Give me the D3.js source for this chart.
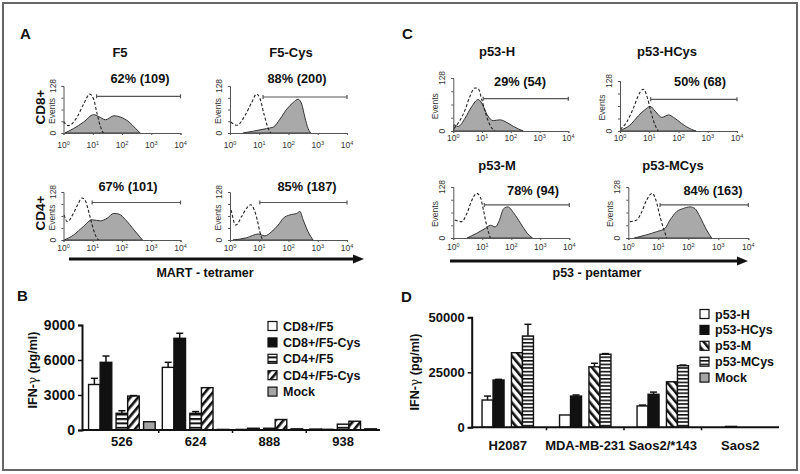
<!DOCTYPE html>
<html><head><meta charset="utf-8">
<script src="https://cdn.jsdelivr.net/npm/d3@7"></script>
<style>
body{margin:0;background:#fff}
text{font-family:"Liberation Sans",Arial,sans-serif;fill:#111}
</style>
</head><body>
<svg id="c" width="800" height="474"></svg>
<script>
// ---------------- DATA ----------------
const logTicks = [0, 1, 2, 3, 4];
const eventTicks = [0, 32, 64, 96, 128];

// flow histograms: [log10 fluorescence, events]
const a11Ctrl = [[0,31],[0.17,20],[0.46,43],[0.69,79],[0.9,106],[1.03,92],[1.15,52],[1.27,16],[1.36,0]];
const a11Stain = [[0.05,0],[0.34,12],[0.69,30],[1.03,50],[1.2,45],[1.44,36],[1.72,47],[1.96,43],[2.24,30],[2.47,12],[2.62,0]];
const a12Ctrl = [[0.03,30],[0.23,21],[0.51,47],[0.74,83],[0.91,106],[1.02,95],[1.16,52],[1.31,12],[1.39,0]];
const a12Stain = [[0.45,0],[0.8,5],[1.25,12],[1.48,16],[1.71,38],[1.94,65],[2.16,83],[2.33,92],[2.45,79],[2.56,43],[2.67,12],[2.76,0]];
const a21Ctrl = [[0.02,67],[0.13,49],[0.34,71],[0.51,98],[0.63,112],[0.75,104],[0.86,76],[0.98,40],[1.09,13],[1.2,0]];
const a21Stain = [[0.02,0],[0.34,13],[0.68,36],[0.98,54],[1.26,51],[1.49,58],[1.72,71],[1.9,69],[2.12,54],[2.41,27],[2.7,0]];
const a22Ctrl = [[0.04,80],[0.2,40],[0.4,63],[0.57,85],[0.71,94],[0.83,80],[0.93,54],[1.02,22],[1.11,0]];
const a22Stain = [[0.1,0],[0.57,6],[0.97,16],[1.19,11],[1.42,22],[1.65,40],[1.82,58],[2.05,67],[2.28,71],[2.39,76],[2.5,54],[2.67,22],[2.84,0]];
const c11Ctrl = [[0.02,6],[0.17,19],[0.41,51],[0.58,84],[0.75,104],[0.87,102],[0.99,76],[1.14,39],[1.3,11],[1.45,0]];
const c11Stain = [[0.01,0],[0.02,15],[0.17,11],[0.41,31],[0.64,59],[0.87,76],[1.02,63],[1.18,39],[1.39,25],[1.62,27],[1.8,23],[2.09,11],[2.43,0]];
const c12Ctrl = [[0.01,4],[0.23,23],[0.46,59],[0.66,96],[0.8,107],[0.94,84],[1.05,51],[1.2,15],[1.31,0]];
const c12Stain = [[0.01,2],[0.34,15],[0.63,39],[0.86,55],[1.03,63],[1.2,51],[1.43,35],[1.66,41],[1.83,35],[2.11,19],[2.45,4],[2.6,0]];
const c21Ctrl = [[0.05,45],[0.29,41],[0.47,62],[0.64,95],[0.81,112],[0.93,103],[1.04,70],[1.16,28],[1.28,0]];
const c21Stain = [[0.47,0],[0.81,12],[1.1,24],[1.28,32],[1.45,28],[1.57,41],[1.74,74],[1.88,78],[2.09,62],[2.32,37],[2.55,12],[2.73,0]];
const c22Ctrl = [[0.05,41],[0.28,45],[0.45,66],[0.61,95],[0.8,112],[0.92,95],[1.06,53],[1.19,20],[1.28,0]];
const c22Stain = [[0.2,0],[0.61,8],[0.95,16],[1.22,24],[1.39,45],[1.61,66],[1.83,74],[2.06,78],[2.22,74],[2.39,53],[2.61,20],[2.78,0]];

const percentLabels = ["62% (109)", "88% (200)", "67% (101)", "85% (187)", "29% (54)", "50% (68)", "78% (94)", "84% (163)"];
const gateStarts = [1.13, 1.13, 0.98, 1.02, 1.04, 1.05, 1.07, 1.06];
const gateLevels = [100, 98, 100, 100, 78, 81, 83, 83];

const bCategories = ["526", "624", "888", "938"];
const bSeries = ["CD8+/F5", "CD8+/F5-Cys", "CD4+/F5", "CD4+/F5-Cys", "Mock"];
const bCD8F5 = [3900, 5370, 50, 80];
const bCD8F5Cys = [5800, 7860, 150, 60];
const bCD4F5 = [1430, 1430, 150, 500];
const bCD4F5Cys = [2910, 3630, 900, 750];
const bMock = [710, 50, 100, 100];
const bCD8F5Err = [530, 430, 0, 0];
const bCD8F5CysErr = [540, 430, 0, 0];
const bCD4F5Err = [220, 150, 0, 0];
const bCD4F5CysErr = [40, 0, 0, 0];
const bMockErr = [0, 0, 0, 0];
const bTicks = [0, 3000, 6000, 9000];

const dCategories = ["H2087", "MDA-MB-231", "Saos2/*143", "Saos2"];
const dSeries = ["p53-H", "p53-HCys", "p53-M", "p53-MCys", "Mock"];
const dP53H = [12400, 5600, 9700, 0];
const dP53HCys = [21500, 14200, 15000, 400];
const dP53M = [33900, 27500, 20700, 0];
const dP53MCys = [41500, 33200, 28000, 0];
const dMock = [0, 0, 0, 0];
const dP53HErr = [1800, 0, 400, 0];
const dP53HCysErr = [300, 500, 1000, 0];
const dP53MErr = [0, 1600, 0, 0];
const dP53MCysErr = [5300, 300, 300, 0];
const dMockErr = [0, 0, 0, 0];
const dTicks = [0, 25000, 50000];

// ---------------- DRAW ----------------
const svg = d3.select("#c");
const defs = svg.append("defs");
function hStripe(id, gap, thick){
  const p = defs.append("pattern").attr("id", id).attr("patternUnits","userSpaceOnUse")
    .attr("width", 4).attr("height", gap);
  p.append("rect").attr("width",4).attr("height",gap).attr("fill","#fff");
  p.append("rect").attr("y",0).attr("width",4).attr("height",thick).attr("fill","#111");
}
function dStripe(id, angle, gap, thick){
  const p = defs.append("pattern").attr("id", id).attr("patternUnits","userSpaceOnUse")
    .attr("width", gap).attr("height", gap).attr("patternTransform", `rotate(${angle})`);
  p.append("rect").attr("width",gap).attr("height",gap).attr("fill","#fff");
  p.append("rect").attr("x",0).attr("width",thick).attr("height",gap).attr("fill","#111");
}
hStripe("hsB", 4.4, 2);
dStripe("dsB", 40, 6, 2.6);
hStripe("hsD", 3.6, 1.6);
dStripe("dsD", -40, 6, 2.6);

// outer frame
svg.append("rect").attr("x",3).attr("y",3).attr("width",794).attr("height",467)
  .attr("fill","none").attr("stroke","#666").attr("stroke-width",2);

function txt(x,y,s,size,opt={}){
  const t = svg.append("text").attr("x",x).attr("y",y).text(s)
    .attr("font-size",size).attr("font-weight",opt.w||"bold")
    .attr("text-anchor",opt.a||"middle");
  if(opt.rot) t.attr("transform",`rotate(-90,${x},${y})`);
  if(opt.fill) t.style("fill",opt.fill);
  return t;
}

// panel letters
txt(20,39,"A",15,{a:"start"});
txt(402,39,"C",15,{a:"start"});
txt(17,301,"B",15,{a:"start"});
txt(401,302,"D",15,{a:"start"});

// column / row titles
txt(120,57,"F5",13); txt(291,57,"F5-Cys",13);
txt(497,56,"p53-H",13); txt(667,56,"p53-HCys",13);
txt(497,170,"p53-M",13); txt(673,170,"p53-MCys",13);
txt(45,107,"CD8+",13.5,{rot:true});
txt(45,213,"CD4+",13.5,{rot:true});

// histogram panels
const hists = [
  {ctrl:a11Ctrl, stain:a11Stain, x0:63.5, base:133, w:117, h:47, lab:[140,83], lo:12, ev:11},
  {ctrl:a12Ctrl, stain:a12Stain, x0:230, base:133, w:117, h:47, lab:[297,83], lo:12, ev:11},
  {ctrl:a21Ctrl, stain:a21Stain, x0:63.5, base:240, w:117, h:48, lab:[128,191], lo:8, ev:11},
  {ctrl:a22Ctrl, stain:a22Stain, x0:230, base:240, w:117, h:48, lab:[307,191], lo:8, ev:11},
  {ctrl:c11Ctrl, stain:c11Stain, x0:453.3, base:131, w:115, h:53, lab:[520,86], lo:7, ev:17},
  {ctrl:c12Ctrl, stain:c12Stain, x0:620, base:131, w:117, h:50, lab:[700,86], lo:7, ev:17},
  {ctrl:c21Ctrl, stain:c21Stain, x0:453.3, base:238, w:116, h:51, lab:[533,195], lo:9, ev:17},
  {ctrl:c22Ctrl, stain:c22Stain, x0:628.3, base:238, w:120, h:51, lab:[713,195], lo:9, ev:17}
];
hists.forEach((p,i)=>{
  const x = d3.scaleLinear().domain([0,4]).range([p.x0, p.x0+p.w]);
  const y = d3.scaleLinear().domain([0,128]).range([p.base, p.base-p.h]);
  const g = svg.append("g");
  const area = d3.area().x(d=>x(d[0])).y0(y(0)).y1(d=>y(d[1])).curve(d3.curveMonotoneX);
  const line = d3.line().x(d=>x(d[0])).y(d=>y(d[1])).curve(d3.curveMonotoneX);
  g.append("path").attr("d",area(p.stain)).attr("fill","#a9a9a9").attr("stroke","#333").attr("stroke-width",1);
  g.append("path").attr("d",line(p.ctrl)).attr("fill","none").attr("stroke","#222")
    .attr("stroke-width",1.1).attr("stroke-dasharray","3,2");
  // axes
  const gx = g.append("g").attr("transform",`translate(0,${p.base})`)
    .call(d3.axisBottom(x).tickValues(logTicks).tickSize(2).tickFormat(""));
  gx.select(".domain").attr("stroke","#555");
  gx.selectAll(".tick line").attr("stroke","#555");
  const gy = g.append("g").attr("transform",`translate(${p.x0},0)`)
    .call(d3.axisLeft(y).tickValues(eventTicks).tickSize(2).tickFormat(""));
  gy.select(".domain").attr("stroke","#555");
  gy.selectAll(".tick line").attr("stroke","#555");
  logTicks.forEach(t=>{
    const tt = svg.append("text").attr("x",x(t)).attr("y",p.base+p.lo+3)
      .attr("font-size",8.5).attr("text-anchor","middle").style("fill","#333");
    tt.append("tspan").text("10");
    tt.append("tspan").text(t).attr("font-size",5.5).attr("dy",-3.5);
  });
  txt(p.x0-8, y(128), "128", 8.5, {w:"normal", rot:true, fill:"#333"});
  txt(p.x0-8, y(0), "0", 8.5, {w:"normal", rot:true, fill:"#333"});
  txt(p.x0-p.ev+2, y(60), "Events", 8.5, {w:"normal", rot:true, fill:"#333"});
  // gate
  const gy2 = y(gateLevels[i]);
  g.append("line").attr("x1",x(gateStarts[i])).attr("x2",x(4)).attr("y1",gy2).attr("y2",gy2)
    .attr("stroke","#555").attr("stroke-width",1.2);
  [gateStarts[i],4].forEach(v=>g.append("line").attr("x1",x(v)).attr("x2",x(v))
    .attr("y1",gy2-2).attr("y2",gy2+2).attr("stroke","#555").attr("stroke-width",1.2));
  txt(p.lab[0], p.lab[1], percentLabels[i], 12.8);
});

// arrows
function arrow(x1,x2,y){
  svg.append("line").attr("x1",x1).attr("x2",x2-8).attr("y1",y).attr("y2",y)
    .attr("stroke","#111").attr("stroke-width",3);
  svg.append("path").attr("d",`M${x2-11},${y-4.5}L${x2},${y}L${x2-11},${y+4.5}Z`).attr("fill","#111");
}
arrow(69,364,259); arrow(450,748,261);
txt(205,277,"MART - tetramer",12.5);
txt(597,277,"p53 - pentamer",12.5);

// bar charts
function barChart(cfg){
  const y = d3.scaleLinear().domain(cfg.domain).range(cfg.yr);
  const x = d3.scaleBand().domain(cfg.cats).range(cfg.xr);
  const nb = cfg.drawn.length;
  const xi = d3.scaleBand().domain(cfg.drawn).range([0, nb*cfg.bw]);
  const span = nb*cfg.bw + cfg.gap*cfg.gapIdx[nb-1];
  const g = svg.append("g");
  cfg.drawn.forEach((s,si)=>{
    const vals = cfg.values[si], errs = cfg.errs[si];
    cfg.cats.forEach((c,ci)=>{
      const bx = x(c) + (x.bandwidth()-span)/2 + xi(s) + cfg.gapIdx[si]*cfg.gap;
      const v = vals[ci];
      if(v<=0) return;
      if(errs[ci]>0){
        const cx = bx + cfg.bw/2;
        g.append("line").attr("x1",cx).attr("x2",cx).attr("y1",y(v)).attr("y2",y(v+errs[ci]))
          .attr("stroke","#111").attr("stroke-width",1.5);
        g.append("line").attr("x1",cx-3.5).attr("x2",cx+3.5).attr("y1",y(v+errs[ci])).attr("y2",y(v+errs[ci]))
          .attr("stroke","#111").attr("stroke-width",1.5);
      }
      g.append("rect").attr("x",bx).attr("width",cfg.bw).attr("y",y(v)).attr("height",y(0)-y(v))
        .attr("fill",cfg.fills[si]).attr("stroke","#111").attr("stroke-width",1.4);
    });
  });
  // axes
  const ax = g.append("g").attr("transform",`translate(0,${y(0)})`)
    .call(d3.axisBottom(x).tickSize(0).tickFormat(""));
  ax.select(".domain").remove();
  g.append("line").attr("x1",cfg.axX).attr("x2",cfg.xr[1]).attr("y1",y(0)).attr("y2",y(0))
    .attr("stroke","#111").attr("stroke-width",2);
  cfg.cats.slice(1).forEach(c=>g.append("line").attr("x1",x(c)).attr("x2",x(c))
    .attr("y1",y(0)).attr("y2",y(0)+3).attr("stroke","#111").attr("stroke-width",1.5));
  cfg.cats.forEach(c=>txt(x(c)+x.bandwidth()/2, cfg.catY, c, 13));
  const ay = g.append("g").attr("transform",`translate(${cfg.axX},0)`)
    .call(d3.axisLeft(y).tickValues(cfg.ticks).tickSize(4).tickFormat(""));
  ay.select(".domain").attr("stroke","#111").attr("stroke-width",2);
  ay.selectAll(".tick line").attr("stroke","#111").attr("stroke-width",1.5);
  cfg.ticks.forEach(t=>txt(cfg.axX-7, y(t)+5, t, cfg.tickSize, {a:"end"}));
  const yl = svg.append("text").attr("transform",`translate(${cfg.ylab[0]},${cfg.ylab[1]}) rotate(-90)`)
    .attr("text-anchor","middle").attr("font-size",12.5).attr("font-weight","bold");
  yl.append("tspan").text("IFN-");
  yl.append("tspan").text("γ").attr("font-weight","normal").attr("font-family","DejaVu Serif");
  yl.append("tspan").text(" (pg/ml)");
  // legend
  cfg.series.forEach((s,i)=>{
    const ly = cfg.leg[1] + i*cfg.leg[2];
    svg.append("rect").attr("x",cfg.leg[0]).attr("y",ly-4.5).attr("width",9).attr("height",9)
      .attr("fill",cfg.legFills[i]).attr("stroke","#111").attr("stroke-width",1.2);
    txt(cfg.leg[0]+15, ly+4.5, s, 12.5, {a:"start"});
  });
}

barChart({
  cats:bCategories, series:bSeries, drawn:bSeries,
  values:[bCD8F5,bCD8F5Cys,bCD4F5,bCD4F5Cys,bMock],
  errs:[bCD8F5Err,bCD8F5CysErr,bCD4F5Err,bCD4F5CysErr,bMockErr],
  fills:["#fff","#111","url(#hsB)","url(#dsB)","#a4a4a4"],
  legFills:["#fff","#111","url(#hsB)","url(#dsB)","#a4a4a4"],
  gapIdx:[0,0,1,1,2], gap:4.3, bw:11.6,
  domain:[0,9000], yr:[430,325], xr:[85,380], axX:82, ticks:bTicks, tickSize:14,
  catY:446, ylab:[37,370], leg:[268,326,16.4]
});
barChart({
  cats:dCategories, series:dSeries, drawn:dSeries.slice(0,4),
  values:[dP53H,dP53HCys,dP53M,dP53MCys,dMock],
  errs:[dP53HErr,dP53HCysErr,dP53MErr,dP53MCysErr,dMockErr],
  fills:["#fff","#111","url(#dsD)","url(#hsD)","#a4a4a4"],
  legFills:["#fff","#111","url(#dsD)","url(#hsD)","#a4a4a4"],
  gapIdx:[0,0,1,1], gap:7.4, bw:11,
  domain:[0,50000], yr:[427.3,317.3], xr:[469,779], axX:471.7, ticks:dTicks, tickSize:13,
  catY:449.5, ylab:[419,372], leg:[700,314,15.9]
});
</script>
</body></html>
